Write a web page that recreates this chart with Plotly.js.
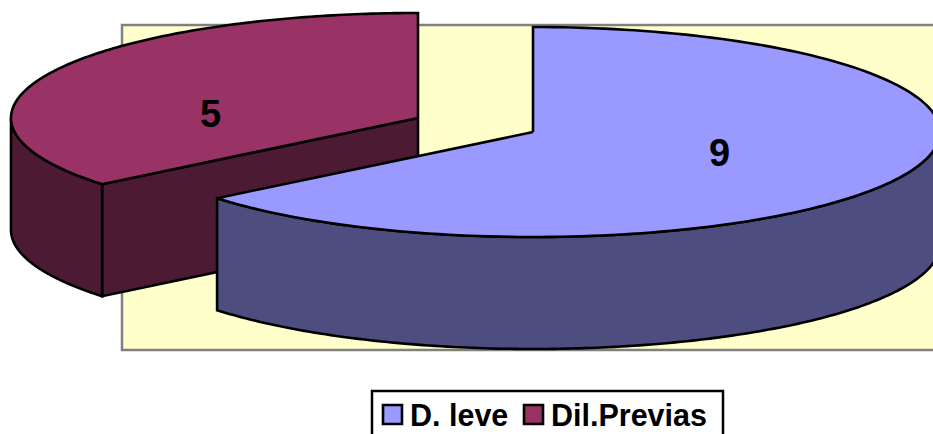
<!DOCTYPE html>
<html>
<head>
<meta charset="utf-8">
<script src="https://cdn.plot.ly/plotly-3.0.1.min.js"></script>
<style>html,body{margin:0;padding:0;background:#fff;overflow:hidden}#c{width:933px;height:434px}</style>
</head>
<body>
<div id="c"></div>
<script>
var categories = ["D. leve", "Dil.Previas"];
var values = [9, 5];
var topColors = ["#9999FF", "#993366"];
var wallColors = ["#4D4D80", "#4D1A33"];
var labelPos = [[719, 153], [210, 114]];

var centers = [[533, 132], [418, 118]];
var rx = 407, ry = 105, depth = 112;
var total = values[0] + values[1];
var projectionTrim = -0.009;
var split = values[0] / total * 2 * Math.PI + projectionTrim;

function pt(c, a, dy) {
  return [c[0] + rx * Math.sin(a), c[1] - ry * Math.cos(a) + (dy || 0)];
}
function arc(c, a0, a1, dy) {
  var out = [], n = 160;
  for (var i = 0; i <= n; i++) out.push(pt(c, a0 + (a1 - a0) * i / n, dy));
  return out;
}
function poly(points, fill, name) {
  var xs = points.map(function (p) { return p[0]; });
  var ys = points.map(function (p) { return p[1]; });
  xs.push(xs[0]); ys.push(ys[0]);
  return {
    type: "scatter", mode: "lines", x: xs, y: ys, fill: "toself", fillcolor: fill,
    line: { color: "#000", width: 2.6, simplify: false }, hoverinfo: "skip", showlegend: false, name: name
  };
}
function wall(c, a0, a1, fill, name) {
  return poly(arc(c, a0, a1, 0).concat(arc(c, a1, a0, depth)), fill, name);
}

var red = centers[1], blue = centers[0];
var traces = [
  poly([red, pt(red, split), pt(red, split, depth), [red[0], red[1] + depth]], wallColors[1], categories[1]),
  wall(red, split, 1.5 * Math.PI, wallColors[1], categories[1]),
  poly([red].concat(arc(red, split, 2 * Math.PI, 0)), topColors[1], categories[1]),
  wall(blue, 0.5 * Math.PI, split, wallColors[0], categories[0]),
  poly([blue].concat(arc(blue, 0, split, 0)), topColors[0], categories[0])
];

var font = "Liberation Sans, Arial, sans-serif";
var annotations = [0, 1].map(function (i) {
  return {
    x: labelPos[i][0], y: labelPos[i][1], xref: "x", yref: "y", text: "<b>" + values[i] + "</b>",
    showarrow: false, xanchor: "center", yanchor: "middle",
    font: { family: font, size: 38, color: "#000" }
  };
});
var legendText = [411, 552], legendSw = [382, 523];
var shapes = [
  { type: "rect", layer: "below", xref: "x", yref: "y", x0: 122, x1: 960, y0: 25, y1: 350,
    fillcolor: "#FFFFCC", line: { color: "#808080", width: 2.5 } },
  { type: "rect", layer: "above", xref: "x", yref: "y", x0: 372, x1: 723, y0: 391, y1: 450,
    fillcolor: "#FFFFFF", line: { color: "#000", width: 2.5 } }
];
[0, 1].forEach(function (i) {
  shapes.push({ type: "rect", layer: "above", xref: "x", yref: "y", x0: legendSw[i] + 1, x1: legendSw[i] + 20, y0: 405, y1: 424,
    fillcolor: topColors[i], line: { color: "#000", width: 2.6 } });
  annotations.push({ x: legendText[i], y: 415, xref: "x", yref: "y", text: "<b>" + categories[i] + "</b>",
    showarrow: false, xanchor: "left", yanchor: "middle", xshift: -3,
    font: { family: font, size: 30.5, color: "#000" } });
});

Plotly.newPlot("c", traces, {
  width: 933, height: 434,
  margin: { l: 0, r: 0, t: 0, b: 0, pad: 0 },
  paper_bgcolor: "#fff", plot_bgcolor: "#fff",
  showlegend: false,
  xaxis: { range: [0, 933], visible: false, fixedrange: true },
  yaxis: { range: [434, 0], visible: false, fixedrange: true },
  shapes: shapes, annotations: annotations
}, { staticPlot: true, displayModeBar: false });
</script>
</body>
</html>
